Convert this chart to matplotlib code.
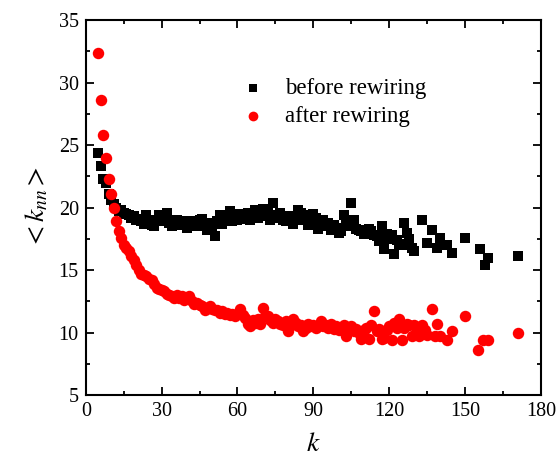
import matplotlib
matplotlib.use("Agg")
import matplotlib.pyplot as plt
from matplotlib.ticker import MultipleLocator

plt.rcParams['font.family'] = ['Liberation Serif', 'DejaVu Serif']
plt.rcParams['mathtext.fontset'] = 'stix'

# before rewiring (black squares)
k_before = list(range(5, 131)) + [133, 135, 137, 139, 140, 143, 145, 150, 156, 158, 159, 171]
knn_before = [
    24.4, 23.3, 22.3, 22.0, 21.1, 20.6, 20.3, 20.0, 19.7, 19.8,   # 5-14
    19.6, 19.5, 19.4, 19.2, 19.3, 19.0, 19.1, 18.9, 18.7, 19.4,   # 15-24
    19.0, 18.6, 18.5, 19.0, 19.4, 18.9, 19.2, 19.6, 18.8, 18.5,   # 25-34
    18.6, 19.0, 18.7, 18.6, 18.9, 18.4, 18.7, 18.6, 18.9, 18.5,   # 35-44
    19.0, 19.1, 18.6, 18.2, 18.8, 18.5, 17.7, 18.9, 19.4, 18.7,   # 45-54
    19.0, 19.3, 19.7, 18.9, 19.2, 19.0, 19.5, 19.3, 19.1, 19.6,   # 55-64
    19.0, 19.4, 19.8, 19.2, 19.5, 19.9, 19.3, 19.6, 19.0, 20.4,   # 65-74
    19.4, 19.2, 19.6, 19.0, 18.9, 19.3, 19.1, 18.7, 19.2, 19.8,   # 75-84
    19.6, 19.0, 19.4, 18.6, 18.9, 19.5, 19.2, 18.3, 18.9, 19.0,   # 85-94
    18.5, 18.8, 18.2, 18.6, 18.4, 18.0, 18.1, 19.4, 18.6, 18.5,   # 95-104
    20.4, 19.0, 18.3, 18.2, 18.1, 17.9, 18.0, 18.3, 18.1, 17.8,   # 105-114
    17.7, 17.3, 18.5, 16.7, 17.9, 17.5, 17.8, 16.3, 17.4, 17.1,   # 115-124
    17.0, 18.8, 18.0, 17.5, 16.8, 16.5,                           # 125-130
    19.0, 17.2, 18.2, 16.8, 17.6, 17.0, 16.4, 17.6, 16.7, 15.4, 16.0, 16.1,
]

# after rewiring (red circles)
k_after = list(range(5, 136)) + [137, 138, 139, 140, 143, 145, 150, 155, 157, 159, 171]
knn_after = [
    32.4, 28.6, 25.8, 24.0, 22.3, 21.1, 20.0, 18.9, 18.1, 17.6,   # 5-14
    17.0, 16.8, 16.5, 16.1, 15.8, 15.4, 15.0, 14.7, 14.6, 14.5,   # 15-24
    14.3, 14.2, 13.9, 13.6, 13.5, 13.4, 13.3, 13.1, 13.0, 12.9,   # 25-34
    12.8, 13.0, 12.8, 12.9, 12.6, 12.8, 12.9, 12.5, 12.3, 12.4,   # 35-44
    12.2, 12.1, 11.8, 12.0, 12.1, 11.9, 11.8, 11.8, 11.6, 11.7,   # 45-54
    11.5, 11.6, 11.4, 11.5, 11.3, 11.5, 11.9, 11.4, 11.2, 10.7,   # 55-64
    10.5, 11.0, 10.8, 11.1, 10.7, 12.0, 11.3, 11.3, 11.0, 10.8,   # 65-74
    11.1, 10.9, 10.7, 10.6, 10.9, 10.1, 10.6, 11.1, 10.8, 10.5,   # 75-84
    10.6, 10.1, 10.4, 10.7, 10.5, 10.6, 10.4, 10.5, 10.9, 10.5,   # 85-94
    10.6, 10.4, 10.7, 10.3, 10.5, 10.2, 10.4, 10.6, 9.7, 10.3,    # 95-104
    10.5, 10.1, 10.3, 10.0, 9.5, 10.2, 10.4, 9.5, 10.6, 11.7,     # 105-114
    10.1, 10.3, 9.5, 9.6, 10.2, 10.5, 9.4, 10.8, 10.4, 11.1,      # 115-124
    9.4, 10.4, 10.7, 10.6, 9.7, 10.6, 10.3, 9.7, 10.6, 10.2,      # 125-134
    9.8,                                                          # 135
    11.9, 9.7, 10.7, 9.7, 9.4, 10.1, 11.3, 8.6, 9.4, 9.4, 10.0,
]

x_ticks = [0, 30, 60, 90, 120, 150, 180]
y_ticks = [5, 10, 15, 20, 25, 30, 35]

fig = plt.figure(figsize=(5.57, 4.68), dpi=100)
ax = fig.add_axes([0.154, 0.156, 0.817, 0.801])

ax.scatter(k_before, knn_before, marker='s', s=52, color='black', linewidths=0,
           label='before rewiring', zorder=2)
ax.scatter(k_after, knn_after, marker='o', s=68, color='red', linewidths=0,
           label='after rewiring', zorder=3)

ax.set_xlim(0, 180)
ax.set_ylim(5, 35)
ax.set_xticks(x_ticks)
ax.set_yticks(y_ticks)
ax.xaxis.set_minor_locator(MultipleLocator(15))
ax.yaxis.set_minor_locator(MultipleLocator(2.5))
ax.tick_params(which='both', direction='in', top=True, right=True, labelsize=14.5, width=1.3)
ax.tick_params(which='major', length=6, pad=5)
ax.tick_params(which='minor', length=3)
for sp in ax.spines.values():
    sp.set_linewidth(1.5)

ax.set_xlabel(r'$k$', fontsize=20, labelpad=8)
ax.set_ylabel(r'$<k_{nn}>$', fontsize=20, labelpad=6)

ax.legend(loc='upper left', bbox_to_anchor=(0.30, 0.90), frameon=False, fontsize=16.5,
          handlelength=0.9, handletextpad=0.95, labelspacing=0.3, scatterpoints=1,
          markerscale=0.85)

fig.savefig('out.png', dpi=100)
